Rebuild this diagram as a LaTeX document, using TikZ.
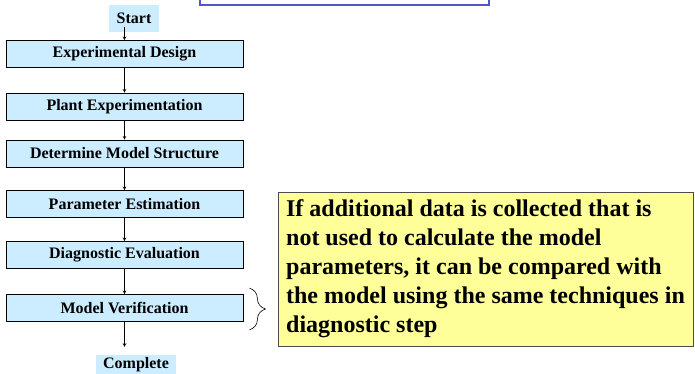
\documentclass[tikz,border=0pt]{standalone}
\usepackage{fontspec}
\setmainfont{Liberation Serif}
\usetikzlibrary{decorations.pathreplacing}
\definecolor{stepblue}{RGB}{204,236,255}
\definecolor{noteyellow}{RGB}{255,255,153}
\definecolor{frameblue}{RGB}{84,84,204}
\tikzset{
  stepbox/.style={draw=black,line width=.8pt,fill=stepblue,minimum width=237pt,minimum height=27pt,inner sep=0pt,font=\fontsize{16}{19}\selectfont\bfseries},
  endbox/.style={fill=stepblue,inner sep=0pt,font=\fontsize{16}{19}\selectfont\bfseries},
  notebox/.style={draw=black!70,line width=.8pt,fill=noteyellow,minimum width=415pt,minimum height=154pt,inner sep=0pt,align=left,font=\fontsize{24}{29}\selectfont\bfseries},
  arr/.style={line width=.6pt,-stealth}
}
\begin{document}
\begin{tikzpicture}[x=1pt,y=-1pt]
	\useasboundingbox (0,0) rectangle (695,374);
	% cut-off frame at the top
	\draw[frameblue,line width=1.2pt,fill=white](200,-30) rectangle (489,5);
	\node[endbox,minimum width=50pt,minimum height=27pt] (start) at (134,18.5) {Start};
	\node[stepbox] (ed) at (124.5,54) {Experimental Design};
	\node[stepbox] (pe) at (124.5,106.5) {Plant Experimentation};
	\node[stepbox] (dms) at (124.5,153.5) {Determine Model Structure};
	\node[stepbox] (pest) at (124.5,204) {Parameter Estimation};
	\node[stepbox] (de) at (124.5,255) {Diagnostic Evaluation};
	\node[stepbox] (mv) at (124.5,308) {Model Verification};
	\node[endbox,minimum width=80pt,minimum height=19pt] (complete) at (136,364.5) {Complete};
	\draw[arr]([yshift=5pt]start.south -| ed.north)--(ed.north);
	\foreach \a/\b in {ed/pe,pe/dms,dms/pest,pest/de,de/mv}
		\draw[arr](\a.south)--(\b.north);
	\draw[arr,shorten >=8pt](mv.south)--(mv.south |- complete.north);
	% note on verification
	\draw[line width=.6pt,decorate,decoration={brace,amplitude=16pt}]([xshift=6pt,yshift=6pt]mv.north east)--([xshift=6pt,yshift=-8pt]mv.south east);
	\node[notebox] (note) at (485.5,269) {If additional data is collected that is\\not used to calculate the model\\parameters, it can be compared with\\the model using the same techniques in\\diagnostic step};
\end{tikzpicture}
\end{document}
